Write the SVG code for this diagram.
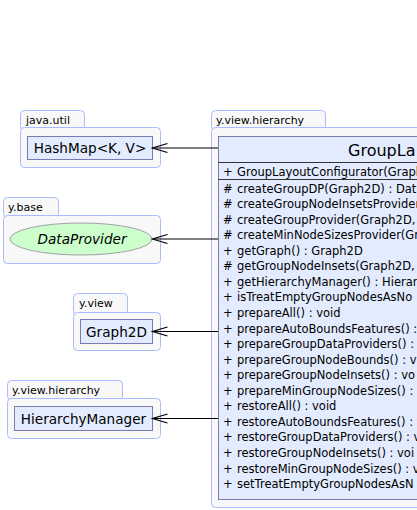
<svg xmlns="http://www.w3.org/2000/svg" width="417" height="510" viewBox="0 0 417 510">
<style>
.pkg{fill:#f8f8f8;stroke:#aabbff;stroke-width:1}
.plab{font-family:"DejaVu Sans",sans-serif;font-size:11px;fill:#000}
.cls{fill:#e3ecff;stroke:#7b7bb3;stroke-width:1}
.cname{font-family:"DejaVu Sans",sans-serif;font-size:13.6px;fill:#000;text-anchor:middle}
.mem{font-family:"DejaVu Sans",sans-serif;font-size:11.5px;fill:#000}
.sep{stroke:#333;stroke-width:1}
.edge{stroke:#000;stroke-width:1.2;fill:none;marker-end:url(#open)}
</style>
<defs>
<marker id="open" markerUnits="userSpaceOnUse" markerWidth="20" markerHeight="12" refX="0" refY="0" orient="auto" overflow="visible">
<path d="M-15,-4.5 L0,0 L-15,4.5" fill="none" stroke="#000" stroke-width="1.2"/>
</marker>
</defs>
<rect width="417" height="510" fill="#fff"/>

<g id="pkg-java-util">
<rect class="pkg" x="20.5" y="110.5" width="64" height="20" rx="4"/>
<rect class="pkg" x="20.5" y="127.5" width="140" height="40" rx="4"/>
<text class="plab" x="26" y="124">java.util</text>
</g>
<g id="HashMap">
<rect class="cls" x="27.5" y="136.5" width="125" height="23"/>
<text class="cname" x="90" y="152.5">HashMap&lt;K, V&gt;</text>
</g>

<g id="pkg-y-base">
<rect class="pkg" x="3.5" y="197.5" width="55" height="20" rx="4"/>
<rect class="pkg" x="3.5" y="215.5" width="157" height="48" rx="4"/>
<text class="plab" x="8" y="211">y.base</text>
</g>
<g id="DataProvider">
<ellipse cx="81" cy="239" rx="71" ry="16" fill="#ccffcc" stroke="#a0a0a8" stroke-width="1"/>
<text class="cname" x="82" y="244" font-style="italic">DataProvider</text>
</g>

<g id="pkg-y-view">
<rect class="pkg" x="73.5" y="293.5" width="54" height="22" rx="4"/>
<rect class="pkg" x="73.5" y="312.5" width="87" height="38" rx="4"/>
<text class="plab" x="79" y="307">y.view</text>
</g>
<g id="Graph2D">
<rect class="cls" x="80.5" y="319.5" width="72" height="24"/>
<text class="cname" x="116.5" y="336.5">Graph2D</text>
</g>

<g id="pkg-y-view-hierarchy-left">
<rect class="pkg" x="7.5" y="380.5" width="115" height="20" rx="4"/>
<rect class="pkg" x="7.5" y="398.5" width="153" height="40" rx="4"/>
<text class="plab" x="12" y="394">y.view.hierarchy</text>
</g>
<g id="HierarchyManager">
<rect class="cls" x="14.5" y="406.5" width="138" height="24"/>
<text class="cname" x="83.5" y="423.5">HierarchyManager</text>
</g>

<g id="pkg-y-view-hierarchy">
<rect class="pkg" x="211.5" y="110.5" width="114" height="20" rx="4"/>
<rect class="pkg" x="211.5" y="127.5" width="400" height="380" rx="4"/>
<text class="plab" x="216" y="124">y.view.hierarchy</text>
</g>
<g id="GroupLayoutConfigurator">
<rect class="cls" x="218.5" y="136.5" width="380" height="363"/>
<line class="sep" x1="218.5" y1="162.5" x2="598.5" y2="162.5"/>
<line class="sep" x1="218.5" y1="179.5" x2="598.5" y2="179.5"/>
<text x="348" y="156" font-family="DejaVu Sans, sans-serif" font-size="16px">GroupLa</text>
<g class="mem">
<text x="223" y="175.5">+<tspan x="237">GroupLayoutConfigurator(Graph</tspan></text>
<text x="223" y="192.5">#<tspan x="237">createGroupDP(Graph2D) : Dat</tspan></text>
<text x="223" y="208.1">#<tspan x="237">createGroupNodeInsetsProvider</tspan></text>
<text x="223" y="223.6">#<tspan x="237">createGroupProvider(Graph2D,</tspan></text>
<text x="223" y="239.2">#<tspan x="237">createMinNodeSizesProvider(Gr</tspan></text>
<text x="223" y="254.7">+<tspan x="237">getGraph() : Graph2D</tspan></text>
<text x="223" y="270.3">#<tspan x="237">getGroupNodeInsets(Graph2D,</tspan></text>
<text x="223" y="285.8">+<tspan x="237">getHierarchyManager() : Hierar</tspan></text>
<text x="223" y="301.4">+<tspan x="237">isTreatEmptyGroupNodesAsNo</tspan></text>
<text x="223" y="316.9">+<tspan x="237">prepareAll() : void</tspan></text>
<text x="223" y="332.5">+<tspan x="237">prepareAutoBoundsFeatures() :</tspan></text>
<text x="223" y="348.1">+<tspan x="237">prepareGroupDataProviders() :</tspan></text>
<text x="223" y="363.6">+<tspan x="237">prepareGroupNodeBounds() : v</tspan></text>
<text x="223" y="379.2">+<tspan x="237">prepareGroupNodeInsets() : vo</tspan></text>
<text x="223" y="394.7">+<tspan x="237">prepareMinGroupNodeSizes() :</tspan></text>
<text x="223" y="410.3">+<tspan x="237">restoreAll() : void</tspan></text>
<text x="223" y="425.8">+<tspan x="237">restoreAutoBoundsFeatures() : v</tspan></text>
<text x="223" y="441.4">+<tspan x="237">restoreGroupDataProviders() : v</tspan></text>
<text x="223" y="456.9">+<tspan x="237">restoreGroupNodeInsets() : voi</tspan></text>
<text x="223" y="472.5">+<tspan x="237">restoreMinGroupNodeSizes() : v</tspan></text>
<text x="223" y="488">+<tspan x="237">setTreatEmptyGroupNodesAsN</tspan></text>
</g>
</g>

<g id="connectors">
<line class="edge" x1="218" y1="148" x2="152.5" y2="148"/>
<line class="edge" x1="218" y1="239" x2="152.5" y2="239"/>
<line class="edge" x1="218" y1="331.5" x2="152.5" y2="331.5"/>
<line class="edge" x1="218" y1="418.5" x2="152.5" y2="418.5"/>
</g>
</svg>
